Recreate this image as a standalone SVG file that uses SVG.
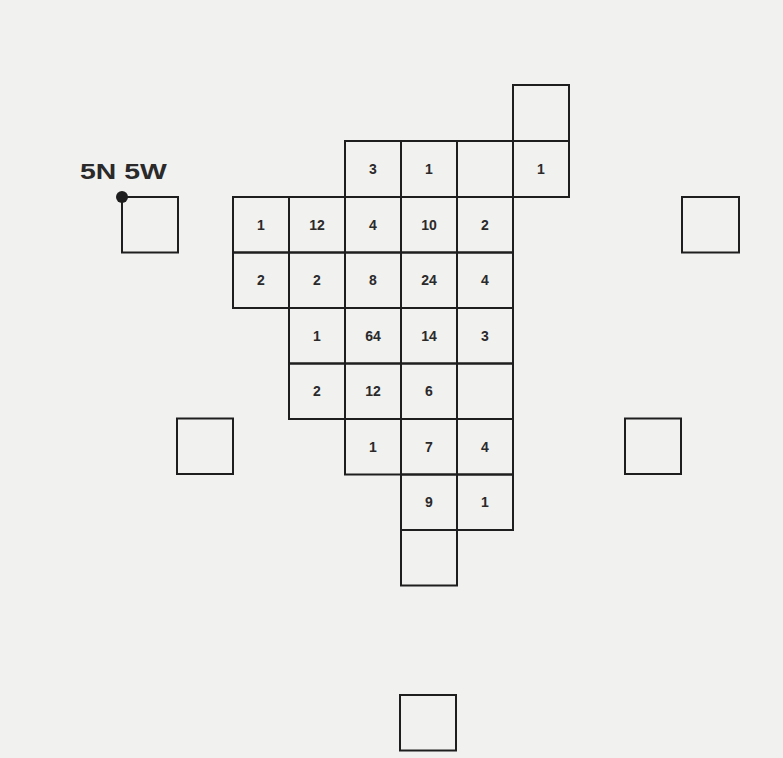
<svg xmlns="http://www.w3.org/2000/svg" width="783" height="758" viewBox="0 0 783 758">
<style>
.c{fill:none;stroke:#1e1e1e;stroke-width:2}
.n{font-family:"Liberation Sans",Arial,sans-serif;font-size:14px;font-weight:bold;fill:#2a2a2a;text-anchor:middle;dominant-baseline:central}
.lbl{font-family:"Liberation Sans",Arial,sans-serif;font-size:22px;font-weight:bold;fill:#2a2a2a}
</style>
<rect width="783" height="758" fill="#f1f1f0"/>
<g id="marker-5N5W">
<text class="lbl" transform="translate(80,179) scale(1.29,1)" x="0" y="0">5N 5W</text>
<circle cx="122" cy="197" r="6" fill="#1e1e1e"/>
<rect class="c" x="122" y="197" width="56" height="55.5"/>
</g>
<g id="iso-right-top"><rect class="c" x="682" y="197" width="57" height="55.5"/></g>
<g id="iso-left"><rect class="c" x="177" y="418.5" width="56" height="55.5"/></g>
<g id="iso-right-low"><rect class="c" x="625" y="418.5" width="56" height="55.5"/></g>
<g id="iso-bottom"><rect class="c" x="400" y="695" width="56" height="55.5"/></g>

<g id="r0c5"><rect class="c" x="513" y="85" width="56" height="56"/></g>

<g id="r1c2"><rect class="c" x="345" y="141" width="56" height="56"/><text class="n" x="373" y="169">3</text></g>
<g id="r1c3"><rect class="c" x="401" y="141" width="56" height="56"/><text class="n" x="429" y="169">1</text></g>
<g id="r1c4"><rect class="c" x="457" y="141" width="56" height="56"/></g>
<g id="r1c5"><rect class="c" x="513" y="141" width="56" height="56"/><text class="n" x="541" y="169">1</text></g>

<g id="r2c0"><rect class="c" x="233" y="197" width="56" height="55.5"/><text class="n" x="261" y="225">1</text></g>
<g id="r2c1"><rect class="c" x="289" y="197" width="56" height="55.5"/><text class="n" x="317" y="225">12</text></g>
<g id="r2c2"><rect class="c" x="345" y="197" width="56" height="55.5"/><text class="n" x="373" y="225">4</text></g>
<g id="r2c3"><rect class="c" x="401" y="197" width="56" height="55.5"/><text class="n" x="429" y="225">10</text></g>
<g id="r2c4"><rect class="c" x="457" y="197" width="56" height="55.5"/><text class="n" x="485" y="225">2</text></g>

<g id="r3c0"><rect class="c" x="233" y="252.5" width="56" height="55.5"/><text class="n" x="261" y="280">2</text></g>
<g id="r3c1"><rect class="c" x="289" y="252.5" width="56" height="55.5"/><text class="n" x="317" y="280">2</text></g>
<g id="r3c2"><rect class="c" x="345" y="252.5" width="56" height="55.5"/><text class="n" x="373" y="280">8</text></g>
<g id="r3c3"><rect class="c" x="401" y="252.5" width="56" height="55.5"/><text class="n" x="429" y="280">24</text></g>
<g id="r3c4"><rect class="c" x="457" y="252.5" width="56" height="55.5"/><text class="n" x="485" y="280">4</text></g>

<g id="r4c1"><rect class="c" x="289" y="308" width="56" height="55.5"/><text class="n" x="317" y="336">1</text></g>
<g id="r4c2"><rect class="c" x="345" y="308" width="56" height="55.5"/><text class="n" x="373" y="336">64</text></g>
<g id="r4c3"><rect class="c" x="401" y="308" width="56" height="55.5"/><text class="n" x="429" y="336">14</text></g>
<g id="r4c4"><rect class="c" x="457" y="308" width="56" height="55.5"/><text class="n" x="485" y="336">3</text></g>

<g id="r5c1"><rect class="c" x="289" y="363.5" width="56" height="55.5"/><text class="n" x="317" y="391">2</text></g>
<g id="r5c2"><rect class="c" x="345" y="363.5" width="56" height="55.5"/><text class="n" x="373" y="391">12</text></g>
<g id="r5c3"><rect class="c" x="401" y="363.5" width="56" height="55.5"/><text class="n" x="429" y="391">6</text></g>
<g id="r5c4"><rect class="c" x="457" y="363.5" width="56" height="55.5"/></g>

<g id="r6c2"><rect class="c" x="345" y="419" width="56" height="55.5"/><text class="n" x="373" y="447">1</text></g>
<g id="r6c3"><rect class="c" x="401" y="419" width="56" height="55.5"/><text class="n" x="429" y="447">7</text></g>
<g id="r6c4"><rect class="c" x="457" y="419" width="56" height="55.5"/><text class="n" x="485" y="447">4</text></g>

<g id="r7c3"><rect class="c" x="401" y="474.5" width="56" height="55.5"/><text class="n" x="429" y="502">9</text></g>
<g id="r7c4"><rect class="c" x="457" y="474.5" width="56" height="55.5"/><text class="n" x="485" y="502">1</text></g>

<g id="r8c3"><rect class="c" x="401" y="530" width="56" height="55.5"/></g>
<g id="connectors"></g>
</svg>
